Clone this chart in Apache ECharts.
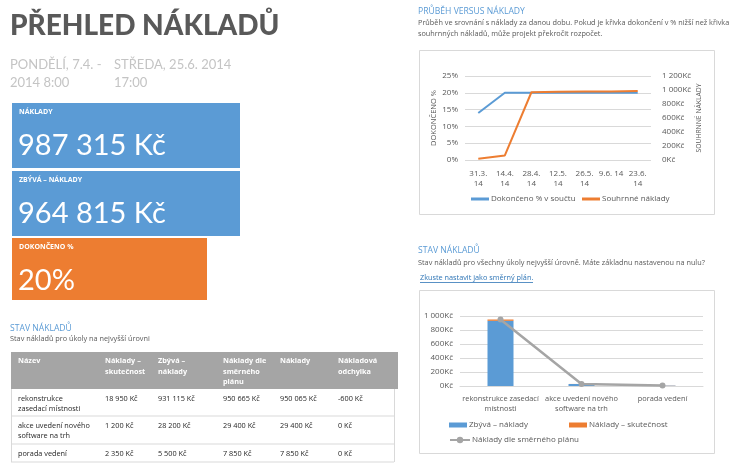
<!DOCTYPE html>
<html><head><meta charset="utf-8">
<script src="https://cdn.jsdelivr.net/npm/echarts@6/dist/echarts.min.js"></script>
<style>html,body{margin:0;padding:0;background:#fff}#c{width:732px;height:466px}</style>
</head><body><div id="c"></div>
<script>
// ---- data ----
const progressDates = ['31.3.\n14', '14.4.\n14', '28.4.\n14', '12.5.\n14', '26.5.\n14', '9.6. 14', '23.6.\n14'];
const percentComplete = [0.14, 0.20, 0.20, 0.20, 0.20, 0.20, 0.20];
const cumulativeCost = [18000, 65000, 968000, 975000, 977000, 980000, 987315];

const taskNames = ['rekonstrukce zasedací místnosti', 'akce uvedení nového software na trh', 'porada vedení'];
const taskAxisLabels = ['rekonstrukce zasedací\nmístnosti', 'akce uvedení nového\nsoftware na trh', 'porada vedení'];
const taskTableLabels = [['rekonstrukce', 'zasedací místnosti'], ['akce uvedení nového', 'software na trh'], ['porada vedení']];
const actualCost = [18950, 1200, 2350];
const remainingCost = [931115, 28200, 5500];
const baselineCost = [950665, 29400, 7850];
const totalCost = [950065, 29400, 7850];
const costVariance = [-600, 0, 0];

const kpiCost = 987315;
const kpiRemaining = 964815;
const kpiComplete = '20%';

// ---- helpers ----
const F = "'Open Sans', 'DejaVu Sans', sans-serif";
const fmt = v => (v < 0 ? '-' : '') + String(Math.abs(v)).replace(/\B(?=(\d{3})+(?!\d))/g, ' ') + ' Kč';
const kFmt = v => (v === 0 ? '0Kč' : String(v / 1000).replace(/\B(?=(\d{3})+(?!\d))/g, ' ') + 'Kč');
const BLUE = '#5b9bd5', ORANGE = '#ed7d31', GRAY = '#a5a5a5', TXT = '#595959';

function txt(x, y, text, size, color, weight) {
  return {type: 'text', x: x, y: y, silent: true,
    style: {text: text, fill: color, font: (weight || 'normal') + ' ' + size + 'px ' + F, textVerticalAlign: 'middle'}};
}

const g = [];
// title
g.push({type: 'text', x: 10, y: 26, style: {text: 'PŘEHLED NÁKLADŮ', fill: '#595959', font: '900 28px Lato, sans-serif', textVerticalAlign: 'middle'}});
const dateFont = '13px Lato, sans-serif', dateCol = '#c4c4c4';
g.push({type: 'text', x: 10, y: 65, style: {text: 'PONDĚLÍ, 7.4. -', fill: dateCol, font: dateFont, textVerticalAlign: 'middle'}});
g.push({type: 'text', x: 10, y: 83, style: {text: '2014 8:00', fill: dateCol, font: dateFont, textVerticalAlign: 'middle'}});
g.push({type: 'text', x: 114, y: 65, style: {text: 'STŘEDA, 25.6. 2014', fill: dateCol, font: dateFont, textVerticalAlign: 'middle'}});
g.push({type: 'text', x: 114, y: 83, style: {text: '17:00', fill: dateCol, font: dateFont, textVerticalAlign: 'middle'}});

// KPI boxes
const kpis = [
  {y: 103, h: 65, w: 228, c: BLUE, label: 'NÁKLADY', value: fmt(kpiCost)},
  {y: 171, h: 65, w: 228, c: BLUE, label: 'ZBÝVÁ – NÁKLADY', value: fmt(kpiRemaining)},
  {y: 238, h: 62, w: 195, c: ORANGE, label: 'DOKONČENO %', value: kpiComplete}
];
kpis.forEach(k => {
  g.push({type: 'rect', shape: {x: 12, y: k.y, width: k.w, height: k.h}, style: {fill: k.c}, silent: true});
  g.push({type: 'text', x: 19, y: k.y + 9, style: {text: k.label, fill: '#fff', font: 'bold 7px ' + F, textVerticalAlign: 'middle'}});
  g.push({type: 'text', x: 18, y: k.y + 43, style: {text: k.value, fill: '#fff', font: 'normal 29px Lato, sans-serif', textVerticalAlign: 'middle'}});
});

// left section heading
g.push(txt(10, 329, 'STAV NÁKLADŮ', 8.6, BLUE));
g.push(txt(10, 339, 'Stav nákladů pro úkoly na nejvyšší úrovni', 7.3, TXT));

// table
const colX = [18, 105, 158, 223, 280, 338];
const headers = [['Název'], ['Náklady –', 'skutečnost'], ['Zbývá –', 'náklady'], ['Náklady dle', 'směrného', 'plánu'], ['Náklady'], ['Nákladová', 'odchylka']];
g.push({type: 'rect', shape: {x: 11, y: 352, width: 387, height: 37}, style: {fill: GRAY}, silent: true});
headers.forEach((h, i) => h.forEach((l, j) => g.push(txt(colX[i], 361 + j * 10.5, l, 7.3, '#fff', 'bold'))));
const rowTop = [389, 416, 444];
const rowBottom = [416, 444, 462];
taskNames.forEach((n, r) => {
  const y0 = rowTop[r] + 10;
  taskTableLabels[r].forEach((l, j) => g.push(txt(colX[0], y0 + j * 9.5, l, 7.3, '#262626')));
  [actualCost[r], remainingCost[r], baselineCost[r], totalCost[r], costVariance[r]].forEach((v, i) =>
    g.push(txt(colX[i + 1], y0, fmt(v), 7.3, '#262626')));
  g.push({type: 'line', shape: {x1: 11, y1: rowBottom[r], x2: 394, y2: rowBottom[r]}, style: {stroke: '#d9d9d9', lineWidth: 1}, silent: true});
});
g.push({type: 'line', shape: {x1: 11.5, y1: 389, x2: 11.5, y2: 462}, style: {stroke: '#d9d9d9', lineWidth: 1}, silent: true});
g.push({type: 'line', shape: {x1: 394.5, y1: 389, x2: 394.5, y2: 462}, style: {stroke: '#d9d9d9', lineWidth: 1}, silent: true});

// right top section
g.push(txt(418, 12, 'PRŮBĚH VERSUS NÁKLADY', 8.6, BLUE));
g.push(txt(418, 23, 'Průběh ve srovnání s náklady za danou dobu. Pokud je křivka dokončení v % nižší než křivka', 7.3, TXT));
g.push(txt(418, 34, 'souhrnných nákladů, může projekt překročit rozpočet.', 7.3, TXT));
g.push({type: 'rect', shape: {x: 419.5, y: 50.5, width: 295, height: 164}, style: {fill: 'none', stroke: '#d9d9d9', lineWidth: 1}, silent: true});

// right bottom section
g.push(txt(418, 251, 'STAV NÁKLADŮ', 8.6, BLUE));
g.push(txt(418, 263, 'Stav nákladů pro všechny úkoly nejvyšší úrovně. Máte základnu nastavenou na nulu?', 7.3, TXT));
g.push(txt(420, 278, 'Zkuste nastavit jako směrný plán.', 7.3, '#2e75b6'));
g.push({type: 'line', shape: {x1: 420, y1: 282.5, x2: 533, y2: 282.5}, style: {stroke: '#2e75b6', lineWidth: 0.8}, silent: true});
g.push({type: 'rect', shape: {x: 419.5, y: 290.5, width: 295, height: 163}, style: {fill: 'none', stroke: '#d9d9d9', lineWidth: 1}, silent: true});

const axisText = {color: TXT, fontSize: 8, fontFamily: F};
const legText = {color: TXT, fontSize: 8, fontFamily: F, padding: [0, 0, 0, -3]};

const option = {
  animation: false,
  backgroundColor: '#fff',
  graphic: g,
  grid: [
    {left: 465, top: 76, width: 186, height: 84, containLabel: false},
    {left: 460, top: 316, width: 243, height: 70, containLabel: false}
  ],
  legend: [
    {data: ['Dokončeno % v součtu'], left: 471, top: 195, itemWidth: 18, itemHeight: 3, icon: 'rect', textStyle: legText, padding: 0},
    {data: ['Souhrnné náklady'], left: 582, top: 195, itemWidth: 18, itemHeight: 3, icon: 'rect', textStyle: legText, padding: 0},
    {data: ['Zbývá – náklady'], left: 449, top: 421, itemWidth: 18, itemHeight: 5, icon: 'rect', textStyle: legText, padding: 0},
    {data: ['Náklady – skutečnost'], left: 569, top: 421, itemWidth: 18, itemHeight: 5, icon: 'rect', textStyle: legText, padding: 0},
    {data: ['Náklady dle směrného plánu'], left: 449, top: 436, itemWidth: 20, itemHeight: 8, textStyle: legText, padding: 0}
  ],
  xAxis: [
    {type: 'category', gridIndex: 0, data: progressDates, boundaryGap: true,
     axisLine: {show: false}, axisTick: {show: false},
     axisLabel: Object.assign({margin: 9, lineHeight: 10, interval: 0}, axisText)},
    {type: 'category', gridIndex: 1, data: taskAxisLabels, boundaryGap: true,
     axisLine: {show: true, lineStyle: {color: '#d9d9d9'}}, axisTick: {show: false},
     axisLabel: Object.assign({}, axisText, {margin: 8, lineHeight: 10, interval: 0, fontSize: 7.4})}
  ],
  yAxis: [
    {type: 'value', gridIndex: 0, min: 0, max: 0.25, interval: 0.05,
     name: 'DOKONČENO %', nameLocation: 'middle', nameRotate: 90, nameGap: 26,
     nameTextStyle: {color: TXT, fontSize: 7.5, fontFamily: F},
     axisLabel: Object.assign({margin: 7, formatter: v => Math.round(v * 100) + '%'}, axisText),
     splitLine: {lineStyle: {color: '#d9d9d9'}}, axisLine: {show: false}, axisTick: {show: false}},
    {type: 'value', gridIndex: 0, min: 0, max: 1200000, interval: 200000, position: 'right',
     name: 'SOUHRNNÉ NÁKLADY', nameLocation: 'middle', nameRotate: 90, nameGap: 45,
     nameTextStyle: {color: TXT, fontSize: 6.8, fontFamily: F},
     axisLabel: Object.assign({margin: 11, formatter: kFmt}, axisText),
     splitLine: {show: false}, axisLine: {show: false}, axisTick: {show: false}},
    {type: 'value', gridIndex: 1, min: 0, max: 1000000, interval: 200000,
     axisLabel: Object.assign({margin: 7, formatter: kFmt}, axisText),
     splitLine: {lineStyle: {color: '#d9d9d9'}}, axisLine: {show: false}, axisTick: {show: false}}
  ],
  series: [
    {name: 'Dokončeno % v součtu', type: 'line', xAxisIndex: 0, yAxisIndex: 0, data: percentComplete,
     symbol: 'none', lineStyle: {color: BLUE, width: 2}, itemStyle: {color: BLUE}},
    {name: 'Souhrnné náklady', type: 'line', xAxisIndex: 0, yAxisIndex: 1, data: cumulativeCost,
     symbol: 'none', lineStyle: {color: ORANGE, width: 2}, itemStyle: {color: ORANGE}},
    {name: 'Zbývá – náklady', type: 'bar', stack: 'c', xAxisIndex: 1, yAxisIndex: 2, data: remainingCost,
     barWidth: 26, itemStyle: {color: BLUE}},
    {name: 'Náklady – skutečnost', type: 'bar', stack: 'c', xAxisIndex: 1, yAxisIndex: 2, data: actualCost,
     barWidth: 26, itemStyle: {color: ORANGE}},
    {name: 'Náklady dle směrného plánu', type: 'line', xAxisIndex: 1, yAxisIndex: 2, data: baselineCost,
     symbol: 'circle', symbolSize: 6, lineStyle: {color: GRAY, width: 2.5}, itemStyle: {color: GRAY}}
  ]
};
const chart = echarts.init(document.getElementById('c'), null, {renderer: 'canvas'});
chart.setOption(option);
</script></body></html>
